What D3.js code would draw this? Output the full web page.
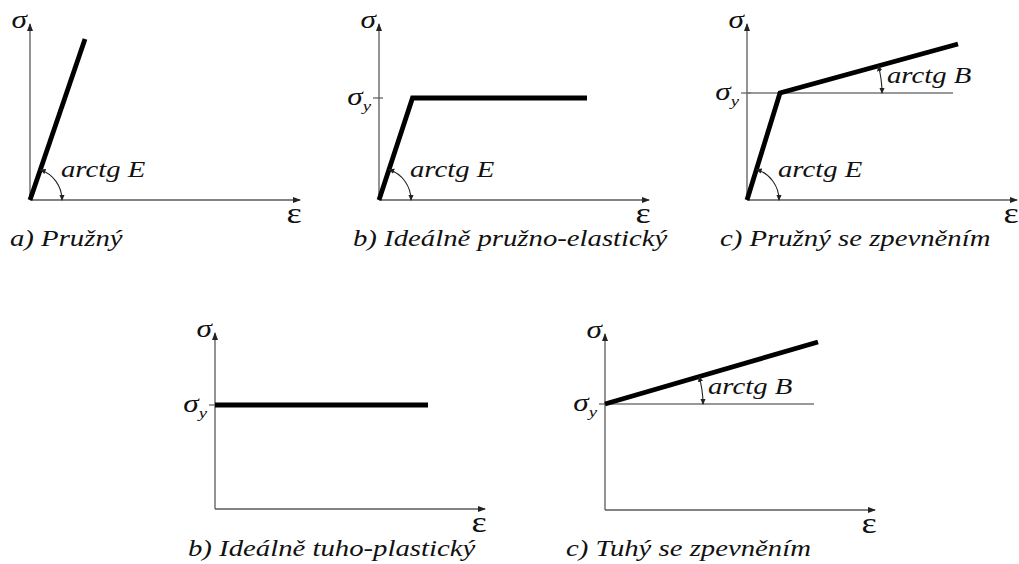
<!DOCTYPE html>
<html>
<head>
<meta charset="utf-8">
<script src="https://cdn.jsdelivr.net/npm/d3@7"></script>
<style>
  html, body { margin: 0; padding: 0; background: #fff; }
  svg { display: block; }
</style>
</head>
<body>
<svg id="chart" width="1019" height="564"></svg>
<script>
// Idealised stress–strain diagrams (σ–ε) of material models.
// Stress is in units of the yield stress σy ≈ 1, strain in matching units.

const captions = [
  "a) Pružný",
  "b) Ideálně pružno-elastický",
  "c) Pružný se zpevněním",
  "b) Ideálně tuho-plastický",
  "c) Tuhý se zpevněním"
];

// Curve vertices of each model: strain values and stress values
const curveStrain = [
  [0, 0.55],
  [0, 0.335, 2.08],
  [0, 0.33, 2.11],
  [0, 2.13],
  [0, 2.13]
];
const curveStress = [
  [0, 1.61],
  [0, 1.02, 1.02],
  [0, 1.07, 1.56],
  [1.04, 1.04],
  [1.06, 1.68]
];

// Yield stress marked on the σ axis (null = not marked)
const yieldStress = [null, 1.02, 1.07, 1.04, 1.06];
// Strain where the thin σy reference line ends (null = no line)
const refLineEnd = [null, null, 2.06, null, 2.09];
// Angle annotations: elastic modulus E at origin, hardening B at yield point
const angleE = [true, true, true, false, false];
const angleB = [false, false, true, false, true];
const labelE = "arctg E";
const labelB = "arctg B";

// Axis extents in data units
const strainMax = 2.7;
const stressMax = 1.76;

// Panel placement on the page
const layout = [
  { ox: 30,  oy: 200, cx: 10,  cy: 246 },
  { ox: 379, oy: 200, cx: 353, cy: 246 },
  { ox: 747, oy: 200, cx: 720, cy: 246 },
  { ox: 215, oy: 509, cx: 188, cy: 556 },
  { ox: 605, oy: 510, cx: 566, cy: 556 }
];

const FONT = "'Liberation Serif', Tinos, 'Times New Roman', serif";
const SX = 1.25;           // horizontal stretch of the lettering
const axisColor = "#5a5a5a";
const refColor = "#777";

const svg = d3.select("#chart");
const defs = svg.append("defs");

defs.append("marker")
  .attr("id", "axisArrow")
  .attr("markerUnits", "userSpaceOnUse")
  .attr("viewBox", "0 -4 8 8")
  .attr("refX", 7).attr("refY", 0)
  .attr("markerWidth", 8).attr("markerHeight", 8)
  .attr("orient", "auto")
  .append("path")
  .attr("d", "M0,-3L8,0L0,3Z")
  .attr("fill", "#222");

defs.append("marker")
  .attr("id", "arcArrow")
  .attr("markerUnits", "userSpaceOnUse")
  .attr("viewBox", "0 -4 8 8")
  .attr("refX", 6).attr("refY", 0)
  .attr("markerWidth", 7).attr("markerHeight", 7)
  .attr("orient", "auto-start-reverse")
  .append("path")
  .attr("d", "M0,-3L7,0L0,3Z")
  .attr("fill", "#222");

function stretchedText(g, x, y, str, size, anchor, style) {
  return g.append("text")
    .attr("transform", `translate(${x},${y}) scale(${SX},1)`)
    .attr("text-anchor", anchor || "start")
    .attr("font-family", FONT)
    .attr("font-size", size)
    .attr("font-style", style || "italic")
    .attr("fill", "#111")
    .text(str);
}

function angleArc(g, cx, cy, r, a0, a1) {
  const p = d3.path();
  p.arc(cx, cy, r, a0, a1, false);
  g.append("path")
    .attr("d", p.toString())
    .attr("fill", "none")
    .attr("stroke", "#222")
    .attr("stroke-width", 1.1)
    .attr("marker-start", "url(#arcArrow)")
    .attr("marker-end", "url(#arcArrow)");
}

captions.forEach((cap, i) => {
  const L = layout[i];
  const x = d3.scaleLinear().domain([0, strainMax]).range([L.ox, L.ox + 270]);
  const y = d3.scaleLinear().domain([0, stressMax]).range([L.oy, L.oy - 176]);
  const g = svg.append("g").attr("class", "panel");

  // axes
  g.append("line")
    .attr("x1", x(0)).attr("y1", y(0)).attr("x2", x(strainMax)).attr("y2", y(0))
    .attr("stroke", axisColor).attr("stroke-width", 1.3)
    .attr("marker-end", "url(#axisArrow)");
  g.append("line")
    .attr("x1", x(0)).attr("y1", y(0)).attr("x2", x(0)).attr("y2", y(stressMax))
    .attr("stroke", axisColor).attr("stroke-width", 1.3)
    .attr("marker-end", "url(#axisArrow)");

  stretchedText(g, x(0) - 3, y(stressMax) + 4, "σ", 25, "end");
  stretchedText(g, x(strainMax) - 6, y(0) + 23, "ε", 29, "middle", "normal");

  // yield stress mark
  const sy = yieldStress[i];
  if (sy !== null) {
    g.append("line")
      .attr("x1", x(0) - 6).attr("x2", x(0) + 4)
      .attr("y1", y(sy)).attr("y2", y(sy))
      .attr("stroke", axisColor).attr("stroke-width", 1.2);
    const t = stretchedText(g, x(0) - 8, y(sy) + 7, "σ", 25, "end");
    t.append("tspan").attr("dy", 6).attr("font-size", 15).text("y");
  }

  // thin reference line at σy
  if (refLineEnd[i] !== null) {
    g.append("line")
      .attr("x1", x(0)).attr("x2", x(refLineEnd[i]))
      .attr("y1", y(sy)).attr("y2", y(sy))
      .attr("stroke", refColor).attr("stroke-width", 1.3);
  }

  // model curve
  const pts = curveStrain[i].map((e, k) => [e, curveStress[i][k]]);
  g.append("path")
    .attr("d", d3.line().x(d => x(d[0])).y(d => y(d[1]))(pts))
    .attr("fill", "none")
    .attr("stroke", "#000")
    .attr("stroke-width", 4.8)
    .attr("stroke-linejoin", "miter")
    .attr("stroke-linecap", "butt");

  // elastic slope angle
  if (angleE[i]) {
    const th = Math.atan2(y(pts[1][1]) - y(pts[0][1]), x(pts[1][0]) - x(pts[0][0]));
    angleArc(g, x(0), y(0), 32, th, 0);
    stretchedText(g, x(0) + 31, y(0) - 23, labelE, 23, "start");
  }

  // hardening slope angle
  if (angleB[i]) {
    const n = pts.length;
    const a = pts[n - 2], b = pts[n - 1];
    const th = Math.atan2(y(b[1]) - y(a[1]), x(b[0]) - x(a[0]));
    const r = i === 2 ? 102 : 98;
    angleArc(g, x(a[0]), y(a[1]), r, th, 0);
    stretchedText(g, x(a[0]) + r + 5, y(a[1]) - 10, labelB, 23, "start");
  }

  stretchedText(g, L.cx, L.cy, cap, 23, "start");
});
</script>
</body>
</html>
